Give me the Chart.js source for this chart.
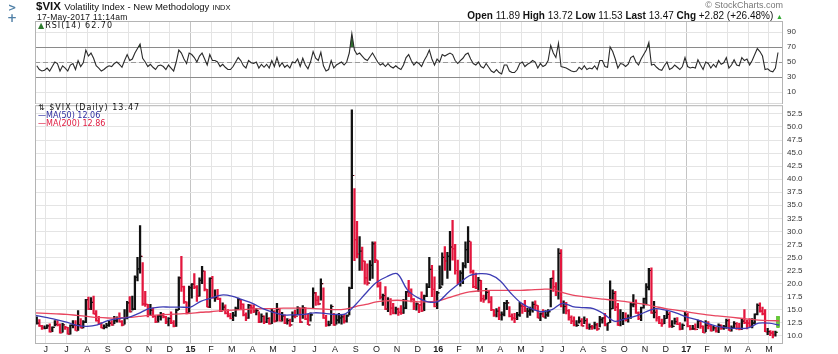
<!DOCTYPE html>
<html>
<head>
<meta charset="utf-8">
<script src="https://cdn.jsdelivr.net/npm/chart.js@4.4.1/dist/chart.umd.min.js"></script>
<style>
body{margin:0;background:#fff;width:838px;height:354px;overflow:hidden;position:relative;font-family:"Liberation Sans",Arial,sans-serif;color:#111}
canvas{position:absolute;left:0}
#rsiChart{top:0}
#priceChart{top:100px}
.t{position:absolute;white-space:nowrap;line-height:1}
.leg{font-family:"DejaVu Sans",sans-serif;font-size:8px}
</style>
</head>
<body>
<canvas id="rsiChart" width="838" height="104"></canvas>
<canvas id="priceChart" width="838" height="254"></canvas>

<div class="t" style="left:8px;top:2px;color:#4f7fa6;font:bold 10px 'DejaVu Sans'">&gt;</div>
<div class="t" style="left:7px;top:11px;color:#4f7fa6;font:bold 12px 'DejaVu Sans'">+</div>
<div class="t" style="left:36px;top:1px;font-size:11.5px"><b>$VIX</b> <span style="font-size:9.5px">Volatility Index - New Methodology</span> <span style="font-size:7.5px">INDX</span></div>
<div class="t" style="left:37px;top:12.5px;font-size:8.5px;letter-spacing:.3px">17-May-2017 11:14am</div>
<div class="t" style="right:55px;top:1px;font-size:9px;color:#777">© StockCharts.com</div>
<div class="t" style="right:55px;top:11px;font-size:10px"><b>Open</b> 11.89 <b>High</b> 13.72 <b>Low</b> 11.53 <b>Last</b> 13.47 <b>Chg</b> +2.82 (+26.48%) <span style="color:#3a3;font-size:7px">▲</span></div>
<div class="t leg" style="left:38px;top:22px;letter-spacing:1px"><span style="color:#2d7a2d">▲</span>RSI(14) 62.70</div>
<div class="t leg" style="left:38px;top:104px;letter-spacing:1px">⇅ $VIX (Daily) 13.47</div>
<div class="t leg" style="left:38px;top:112px;color:#2b2b9e">—MA(50) 12.06</div>
<div class="t leg" style="left:38px;top:120px;color:#e0193f">—MA(200) 12.86</div>

<script>
// x axis is in months since 1-Jun-2014, 8 samples per month
const monthLabels = ["J","J","A","S","O","N","D","15","F","M","A","M","J","J","A","S","O","N","D","16","F","M","A","M","J","J","A","S","O","N","D","17","F","M","A","M"];
const priceTicks = [10,12.5,15,17.5,20,22.5,25,27.5,30,32.5,35,37.5,40,42.5,45,47.5,50,52.5];
const rsiTicks = [10,30,50,70,90];
const rsiLevels = [30,50,70];

const highs = [
  13.6,13.1,12.0,11.9,
  12.1,12.3,11.7,12.9,12.9,12.3,12.4,11.8,
  11.6,12.1,12.9,12.9,14.8,13.3,12.9,17.0,
  17.4,17.3,17.6,14.8,13.7,12.5,12.1,12.4,
  12.8,12.9,13.7,13.6,14.4,12.9,15.0,16.6,
  17.5,17.6,21.5,25.0,31.1,24.0,18.5,16.0,
  16.0,15.3,13.8,13.9,14.5,14.3,13.7,13.5,
  14.6,12.9,15.1,21.3,25.2,19.5,16.5,19.5,
  20.0,21.9,19.6,21.1,23.3,22.4,18.9,21.1,
  21.4,18.8,18.9,17.2,16.3,15.9,15.0,14.3,
  14.5,15.5,17.2,17.0,16.1,14.4,16.0,15.9,
  15.9,15.2,14.6,14.2,13.8,14.4,13.5,15.1,
  14.8,16.2,15.2,14.5,14.0,13.3,13.2,14.6,
  14.9,15.6,15.3,15.8,15.4,14.1,14.4,19.2,
  18.3,17.6,20.9,19.2,13.9,12.8,15.9,14.3,
  13.9,14.3,14.0,14.1,14.0,19.3,53.3,38.2,
  31.9,29.0,27.0,24.3,23.8,24.4,28.0,28.0,
  24.4,20.3,18.0,19.4,17.3,17.1,16.2,15.5,
  15.3,15.8,17.0,18.5,20.6,19.0,17.1,16.3,
  16.0,18.4,17.8,20.0,25.0,23.5,21.3,18.5,
  23.4,25.9,27.1,26.0,30.0,32.1,27.5,24.5,
  22.5,24.0,28.0,30.9,28.0,22.6,22.0,21.2,
  20.6,17.8,19.1,18.7,17.5,15.0,15.2,15.5,
  14.6,16.4,16.8,15.6,14.2,14.3,14.5,16.4,
  16.1,16.8,15.3,15.5,16.5,16.7,15.8,14.4,
  15.0,14.8,15.0,21.0,22.5,20.2,26.7,26.5,
  16.7,16.4,15.0,13.8,13.6,12.9,13.6,13.3,
  13.6,13.3,12.3,12.0,12.6,12.4,13.7,13.5,
  14.3,12.4,20.5,18.8,18.5,16.2,15.0,14.5,
  14.4,14.0,16.3,17.9,16.9,14.6,15.5,17.2,
  20.0,22.9,23.0,16.6,15.0,13.7,13.2,13.9,
  14.9,14.5,12.9,13.4,13.5,12.5,12.3,14.7,
  14.3,12.0,12.0,12.3,13.0,12.9,11.9,12.9,
  12.7,12.2,11.9,11.6,12.3,12.1,12.0,13.2,
  13.2,11.9,12.7,12.5,12.4,13.2,15.0,13.0,
  13.3,13.3,14.2,16.1,16.3,15.5,15.0,11.4,
  11.0,10.9,10.9,13.72
];
const lows = [
  12.2,11.8,11.2,11.3,
  11.4,10.7,10.8,11.9,11.9,10.5,10.7,11.2,
  10.3,10.3,11.5,11.0,11.0,11.5,11.5,12.5,
  15.0,15.0,14.2,12.8,12.2,11.5,11.3,11.5,
  11.8,12.0,12.3,12.6,12.6,11.9,12.2,13.2,
  14.5,14.9,15.0,20.5,22.0,15.8,15.6,13.6,
  14.0,13.5,12.5,12.6,13.0,13.4,12.3,11.9,
  12.3,11.7,11.8,15.0,18.5,16.2,14.2,14.5,
  17.2,19.0,16.6,17.6,20.0,18.6,15.5,15.4,
  17.2,16.6,16.9,14.6,14.9,14.2,13.6,13.2,
  12.9,13.7,15.0,15.2,13.8,12.9,13.3,14.3,
  14.4,14.0,12.5,12.6,12.3,12.5,12.2,12.3,
  12.6,12.8,12.8,12.8,12.3,12.2,11.8,12.7,
  13.4,14.0,12.5,13.3,13.1,12.1,12.8,15.3,
  15.8,15.9,16.8,13.3,11.8,11.9,12.3,12.0,
  12.2,12.4,12.2,12.4,12.6,14.0,19.0,24.4,
  24.9,22.5,22.5,19.9,19.7,20.6,21.0,24.0,
  19.3,17.0,15.8,15.0,14.6,14.0,14.2,14.2,
  13.9,14.1,14.3,15.2,17.5,16.5,15.0,14.9,
  14.4,14.6,14.8,17.5,19.2,17.5,15.5,15.2,
  19.0,19.7,22.5,21.0,22.5,24.5,21.8,19.9,
  19.5,20.0,23.0,24.0,22.0,19.2,19.0,18.5,
  16.6,16.4,17.0,16.3,14.8,13.7,13.6,13.1,
  13.0,13.8,15.0,13.6,13.0,12.5,13.1,13.7,
  14.3,14.6,13.5,13.9,14.5,14.9,13.4,12.9,
  13.6,13.3,13.7,15.5,18.5,17.7,17.0,15.5,
  14.3,14.2,13.0,12.3,11.9,11.8,12.4,11.9,
  12.3,11.3,11.2,11.2,11.3,11.0,11.7,12.4,
  11.9,11.0,12.5,15.2,14.8,12.0,11.9,12.1,
  12.8,12.6,13.3,15.5,14.3,13.1,12.9,15.3,
  15.9,18.8,14.3,13.4,12.8,12.3,11.8,12.3,
  13.3,11.6,11.6,12.2,12.1,11.1,11.2,12.8,
  11.7,11.1,11.2,11.1,11.5,11.4,10.6,10.8,
  11.3,10.9,11.0,10.7,10.6,11.2,11.2,11.4,
  11.0,10.9,11.4,11.2,11.1,11.2,12.3,11.3,
  11.7,11.5,12.3,14.0,14.5,14.0,10.8,10.2,
  10.0,9.6,9.9,11.53
];
const closes = [
  12.4,11.9,11.4,11.4,
  11.9,10.8,11.6,12.2,12.1,10.6,12.1,11.6,
  10.3,12.0,12.1,11.0,12.1,11.5,12.6,16.9,
  15.1,16.4,14.2,12.9,12.3,11.5,11.6,12.0,
  12.4,12.1,12.9,13.3,12.7,12.1,13.3,16.3,
  14.6,15.1,21.2,22.8,25.2,16.1,16.0,14.0,
  14.9,13.7,12.7,13.8,14.0,13.6,12.6,13.3,
  12.5,11.8,14.9,21.1,19.4,16.5,14.4,19.2,
  19.9,19.3,17.6,20.6,22.4,18.9,15.5,21.0,
  17.3,17.3,17.0,14.7,15.5,14.3,13.8,13.3,
  13.9,15.2,16.9,16.0,14.0,13.4,15.8,15.3,
  14.7,14.8,12.6,13.7,12.6,13.3,12.3,14.6,
  12.8,15.1,12.9,13.8,12.4,12.9,12.1,13.8,
  13.7,15.3,12.6,15.4,13.2,12.1,14.0,18.2,
  16.8,16.1,20.0,13.4,12.0,12.1,15.6,12.1,
  13.0,13.4,13.6,12.8,13.8,19.1,40.7,28.4,
  25.6,26.2,24.3,21.1,20.1,23.5,27.6,24.5,
  19.5,17.4,17.7,15.1,16.7,15.3,14.3,15.1,
  14.5,14.3,15.3,18.4,18.2,17.0,15.6,16.1,
  15.9,14.8,17.6,19.3,22.7,18.9,15.6,18.2,
  19.3,25.0,24.3,25.2,27.0,26.7,22.5,20.2,
  22.0,23.4,26.5,28.1,22.3,19.4,19.1,20.6,
  17.1,16.9,18.3,16.5,15.0,14.0,14.7,14.0,
  14.1,16.2,16.3,13.7,13.4,13.3,14.0,15.7,
  15.6,14.7,14.7,15.0,16.0,15.8,13.4,14.2,
  13.6,14.0,14.6,21.0,19.4,18.5,25.8,15.6,
  15.6,14.8,13.5,12.8,12.0,12.0,12.8,11.9,
  12.9,11.4,11.7,11.6,12.1,11.3,13.1,13.4,
  12.0,12.5,15.2,18.1,15.5,12.0,13.1,13.3,
  13.0,13.5,15.9,16.1,14.4,13.3,15.4,17.1,
  19.3,22.5,14.4,14.5,13.4,12.4,12.3,13.3,
  14.1,11.8,11.8,12.7,12.2,11.3,12.0,14.0,
  11.8,11.3,11.3,11.2,12.8,11.8,10.6,12.0,
  11.9,11.0,11.5,10.9,12.0,11.5,11.7,12.9,
  11.0,11.5,12.3,11.4,11.2,12.8,12.5,12.4,
  11.8,12.4,14.1,15.8,14.7,14.2,10.8,10.8,
  10.5,10.1,10.65,13.47
];
const rsi = [
  45,40,38,39,
  42,38,44,50,48,38,45,42,
  38,46,48,40,52,44,49,66,
  58,62,55,45,42,38,40,43,
  45,44,48,50,47,43,52,60,
  52,54,62,68,74,55,50,44,
  47,43,40,45,46,44,40,46,
  42,38,50,66,62,54,48,62,
  60,56,50,58,62,54,46,60,
  52,52,50,44,47,43,40,40,
  44,50,56,52,45,42,52,49,
  48,50,42,47,43,47,42,52,
  44,56,44,49,43,46,42,50,
  49,54,44,55,46,41,50,64,
  55,52,63,45,38,40,52,42,
  46,48,50,46,50,62,88,66,
  60,62,58,54,52,57,62,56,
  50,46,48,44,48,44,42,45,
  42,40,46,56,60,52,46,50,
  48,44,52,58,66,54,46,54,
  50,60,58,60,62,60,52,48,
  52,55,60,62,54,48,46,50,
  44,42,48,43,38,36,40,36,
  34,46,46,38,36,36,40,48,
  50,44,47,49,52,50,42,48,
  44,46,52,72,62,56,75,44,
  43,42,40,38,37,38,43,40,
  45,40,42,41,45,40,52,52,
  44,43,70,64,54,42,48,47,
  44,47,56,58,50,46,54,60,
  66,76,46,47,43,40,39,45,
  50,40,42,46,43,40,44,56,
  44,42,43,42,53,46,40,50,
  48,42,47,43,52,47,49,56,
  42,46,53,46,45,56,52,54,
  46,52,60,68,64,58,40,41,
  38,37,42,62.7
];
// moving averages, 2 readings per month from mid-May 2014
const ma50 = [
  13.9,13.5,13.1,12.6,12.0,11.8,12.1,12.9,13.3,13.5,
  14.3,15.2,15.5,15.5,15.5,15.5,16.6,17.2,17.8,17.6,
  16.9,16.2,15.2,14.5,14.0,14.0,14.1,14.4,14.3,14.1,
  14.2,16.0,18.2,20.2,21.3,21.9,18.8,17.3,16.5,16.6,
  18.4,20.0,21.5,21.9,21.7,20.5,18.2,16.3,15.2,14.6,
  15.0,16.2,15.6,15.4,15.2,14.2,12.8,13.2,13.7,14.5,
  15.2,14.9,14.4,13.6,13.1,12.4,11.8,11.5,11.4,11.5,
  12.4,12.4,12.06
];
const ma200 = [
  14.4,14.3,14.2,14.1,13.9,13.7,13.5,13.4,13.4,13.5,
  13.7,13.9,14.0,14.1,14.2,14.3,14.5,14.6,14.8,14.9,
  15.0,15.1,15.2,15.2,15.3,15.3,15.3,15.2,15.1,15.0,
  15.1,15.6,16.0,16.5,16.7,16.8,16.7,16.5,16.5,16.7,
  17.3,17.9,18.4,18.6,18.7,18.7,18.7,18.7,18.8,18.9,
  18.9,18.3,17.8,17.5,17.2,17.0,16.8,16.6,16.3,16.0,
  15.6,15.2,14.9,14.6,14.3,14.0,13.8,13.6,13.4,13.2,
  13.0,12.9,12.86
];

const xAt = i => -0.5 + (i + 0.5) / 8;
const maX = j => -0.5 + j * 0.5;
const X_MIN = -0.523, X_MAX = 35.68;

const UP = "#111111", DOWN = "#e3173e", TODAY = "#66cc33";
const barColors = closes.map((c, i) => {
  if (i === closes.length - 1) return TODAY;
  return i === 0 || c >= closes[i - 1] ? UP : DOWN;
});
const last = closes.length - 1;

const frame = {
  id: "frame",
  afterDraw(chart) {
    const {ctx, chartArea: a} = chart;
    ctx.save();
    ctx.strokeStyle = "#b4b4b4";
    ctx.lineWidth = 1;
    ctx.strokeRect(a.left + 0.5, a.top + 0.5, a.right - a.left - 1, a.bottom - a.top);
    ctx.restore();
  }
};

const levels = {
  id: "levels",
  beforeDatasetsDraw(chart) {
    const {ctx, chartArea: a, scales: {y}} = chart;
    ctx.save();
    rsiLevels.forEach(v => {
      const py = Math.round(y.getPixelForValue(v)) + 0.5;
      ctx.beginPath();
      ctx.strokeStyle = v === 50 ? "#9a9a9a" : "#8a8a8a";
      ctx.setLineDash(v === 50 ? [5, 3] : []);
      ctx.moveTo(a.left, py);
      ctx.lineTo(a.right, py);
      ctx.stroke();
    });
    ctx.restore();
  }
};

const isYear = v => (monthLabels[v] || "").length === 2;
const xGrid = {
  drawTicks: false,
  offset: false,
  color: ctx => (ctx.tick && isYear(ctx.tick.value)) ? "#c4c4c4" : "#e4e4e4"
};
const monthTicks = s => { s.ticks = monthLabels.map((l, i) => ({value: i})); };
const rightAxisFit = s => { s.width = 55; s.paddingTop = 0; s.paddingBottom = 0; };

Chart.defaults.animation = false;
Chart.defaults.events = [];
Chart.defaults.font.family = "'Liberation Sans', Arial, sans-serif";

new Chart(document.getElementById("rsiChart"), {
  type: "line",
  data: {
    datasets: [{
      data: rsi.map((v, i) => ({x: xAt(i), y: v})),
      borderColor: "#2a2a2a",
      borderWidth: 1.1,
      pointRadius: 0,
      tension: 0,
      fill: {target: {value: 70}, above: "#2f6f2f", below: "rgba(0,0,0,0)"}
    }]
  },
  options: {
    responsive: false,
    layout: {padding: {left: 35, top: 21, right: 0, bottom: 0.5}},
    plugins: {legend: {display: false}, tooltip: {enabled: false}},
    scales: {
      x: {
        type: "linear", min: X_MIN, max: X_MAX, offset: false,
        afterBuildTicks: monthTicks,
        afterFit: s => { s.height = 0; s.paddingLeft = 0; s.paddingRight = 0; },
        ticks: {display: false},
        grid: xGrid,
        border: {display: false}
      },
      y: {
        position: "right", min: -5.3, max: 104.7,
        afterBuildTicks: s => { s.ticks = rsiTicks.map(v => ({value: v})); },
        afterFit: rightAxisFit,
        ticks: {color: "#333", font: {size: 8}, padding: 4},
        grid: {drawTicks: false, color: "#e4e4e4"},
        border: {display: false}
      }
    }
  },
  plugins: [levels, frame]
});

new Chart(document.getElementById("priceChart"), {
  type: "bar",
  data: {
    datasets: [
      {
        type: "line", label: "MA(50)", order: 0,
        data: ma50.map((v, j) => ({x: maX(j), y: v})),
        borderColor: "#3c3cb4", borderWidth: 1.3, pointRadius: 0, tension: 0.35
      },
      {
        type: "line", label: "MA(200)", order: 0,
        data: ma200.map((v, j) => ({x: maX(j), y: v})),
        borderColor: "#e8455f", borderWidth: 1.3, pointRadius: 0, tension: 0.35
      },
      {
        type: "line", label: "close", order: 1, showLine: false,
        data: closes.map((c, i) => ({x: xAt(i), y: c})),
        pointStyle: "dash", pointRadius: 2, pointBorderWidth: 1.2,
        pointBorderColor: barColors, pointBackgroundColor: barColors
      },
      {
        type: "line", label: "open", order: 1, showLine: false,
        data: closes.map((c, i) => ({x: xAt(i), y: i ? closes[i - 1] : c})),
        pointStyle: "dash", pointRotation: 180, pointRadius: 2, pointBorderWidth: 1.2,
        pointBorderColor: barColors, pointBackgroundColor: barColors
      },
      {
        label: "$VIX", order: 2, grouped: false,
        data: closes.map((c, i) => ({x: xAt(i), y: [lows[i], highs[i]]})),
        backgroundColor: barColors, borderWidth: 0, barThickness: 1.6
      },
      {
        label: "today", order: 2, grouped: false,
        data: [{x: xAt(last), y: [lows[last], highs[last]]}],
        backgroundColor: TODAY, borderColor: "#3f9f1f", borderWidth: 0.5, barThickness: 3
      }
    ]
  },
  options: {
    responsive: false,
    layout: {padding: {left: 35, top: 3.5, right: 0, bottom: 0}},
    plugins: {legend: {display: false}, tooltip: {enabled: false}},
    scales: {
      x: {
        type: "linear", min: X_MIN, max: X_MAX, offset: false,
        afterBuildTicks: monthTicks,
        afterFit: s => { s.height = 11; s.paddingLeft = 0; s.paddingRight = 0; },
        ticks: {
          padding: 1, color: "#222", maxRotation: 0, autoSkip: false,
          font: ctx => ({size: 9, weight: (ctx.tick && isYear(ctx.tick.value)) ? "bold" : "normal"}),
          callback: v => monthLabels[v]
        },
        grid: xGrid,
        border: {display: false}
      },
      y: {
        position: "right", min: 8.61, max: 54.17,
        afterBuildTicks: s => { s.ticks = priceTicks.map(v => ({value: v})); },
        afterFit: rightAxisFit,
        ticks: {color: "#333", font: {size: 8}, padding: 4, callback: v => v.toFixed(1)},
        grid: {drawTicks: false, color: "#e4e4e4"},
        border: {display: false}
      }
    }
  },
  plugins: [frame]
});
</script>
</body>
</html>
